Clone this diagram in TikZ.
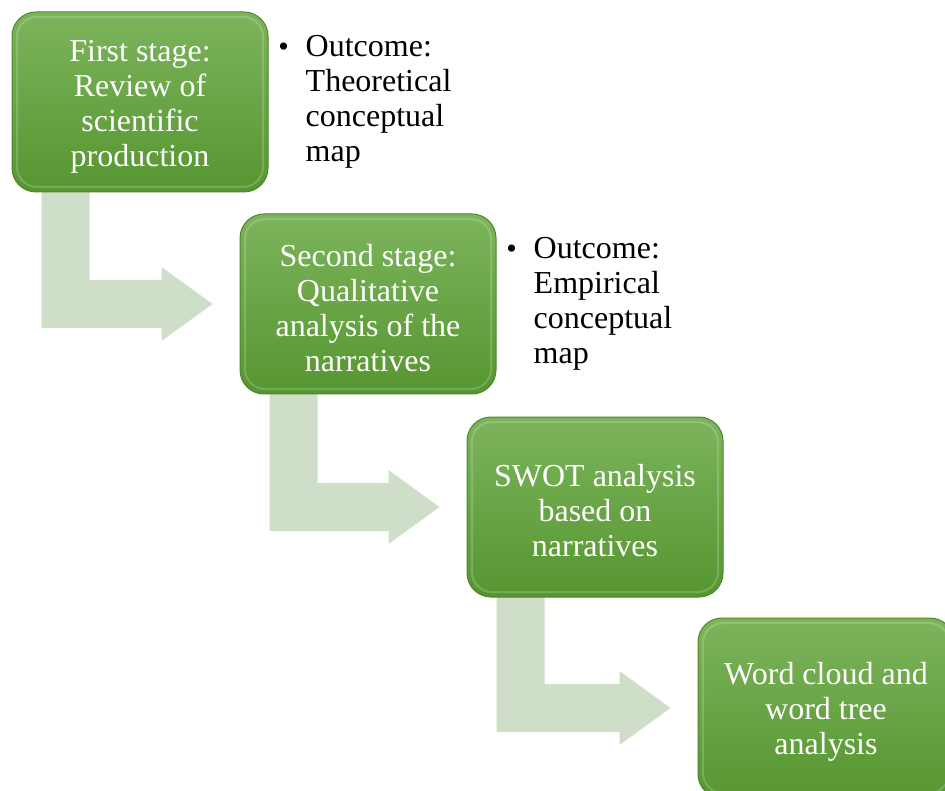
\documentclass[tikz,border=0pt]{standalone}
\usepackage{fontspec}
\setmainfont{Liberation Serif}
\usetikzlibrary{calc,backgrounds}

\definecolor{boxtop}{RGB}{124,180,92}
\definecolor{boxbot}{RGB}{86,150,48}
\definecolor{boxedge}{RGB}{78,134,42}
\definecolor{arrowgreen}{RGB}{207,222,200}

\tikzset{
  stagebox/.style={rounded corners=24pt, minimum width=256pt, minimum height=180pt,
    top color=boxtop, bottom color=boxbot, draw=boxedge, line width=1pt,
    text=white, align=center, inner sep=0pt,
    font=\fontsize{32}{35}\selectfont,
    path picture={\draw[white, opacity=0.18, line width=2pt, rounded corners=20pt]
      ([shift={(5pt,5pt)}]path picture bounding box.south west) rectangle
      ([shift={(-5pt,-5pt)}]path picture bounding box.north east);}},
  outcome/.style={anchor=north west, align=left, inner sep=0pt,
    font=\fontsize{32}{35}\selectfont},
  bulletmark/.style={anchor=base, inner sep=0pt, font=\fontsize{30}{35}\selectfont},
}

% bent arrow from the bottom of one stage to the left side of the next
\newcommand{\bentarrow}[2]{%
  \fill[arrowgreen] let \p1=(#1.south west), \p2=(#2.west) in
    (\x1+30pt,\y1+10pt) -- (\x1+78pt,\y1+10pt) -- (\x1+78pt,\y2+24pt)
    -- (\x2-78pt,\y2+24pt) -- (\x2-78pt,\y2+37pt) -- (\x2-27pt,\y2)
    -- (\x2-78pt,\y2-37pt) -- (\x2-78pt,\y2-24pt) -- (\x1+30pt,\y2-24pt) -- cycle;}

% extra height on a first line nudges a stage's text slightly downward
\newcommand{\toppad}{\rule{0pt}{30pt}}

\begin{document}
\begin{tikzpicture}[x=1pt,y=-1pt]
  \useasboundingbox (0,0) rectangle (945,791);
  \clip (0,0) rectangle (945,791);

  \node[stagebox] (b1) at (140,102) {\toppad First stage:\\Review of\\scientific\\production};
  \node[stagebox] (b2) at (368,304) {\toppad Second stage:\\Qualitative\\analysis of the\\narratives};
  \node[stagebox] (b3) at (595,507) {\toppad SWOT analysis\\based on\\narratives};
  \node[stagebox] (b4) at (826,708) {\toppad Word cloud and\\word tree\\analysis};

  \node[bulletmark] (m1) at ($(b1.north east)+(15,45)$) {•};
  \node[outcome] (o1) at ($(b1.north east)+(37,24)$) {Outcome:\\Theoretical\\conceptual\\map};
  \node[bulletmark] (m2) at ($(b2.north east)+(15,45)$) {•};
  \node[outcome] (o2) at ($(b2.north east)+(37,24)$) {Outcome:\\Empirical\\conceptual\\map};

  \begin{scope}[on background layer]
    \bentarrow{b1}{b2}
    \bentarrow{b2}{b3}
    \bentarrow{b3}{b4}
  \end{scope}
\end{tikzpicture}
\end{document}
